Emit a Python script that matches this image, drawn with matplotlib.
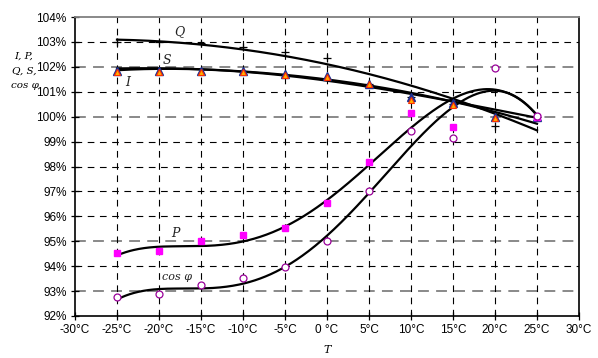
import matplotlib.pyplot as plt
import numpy as np
from matplotlib.ticker import FixedLocator

# temperatures (deg C)
temps = [-25, -20, -15, -10, -5, 0, 5, 10, 15, 20, 25]
tick_temps = [-30, -25, -20, -15, -10, -5, 0, 5, 10, 15, 20, 25, 30]
tick_labels = ['-30°C', '-25°C', '-20°C', '-15°C', '-10°C', '-5°C', '0 °C',
               '5°C', '10°C', '15°C', '20°C', '25°C', '30°C']

# measured points (%)
q_pts = [103.0, 103.0, 102.95, 102.81, 102.61, 102.34, 101.3, 100.8, 100.5, 99.62, 100.0]
s_pts = [101.82, 101.84, 101.84, 101.82, 101.7, 101.65, 101.33, 100.8, 100.55, 99.98, 100.0]
i_pts = [101.78, 101.8, 101.8, 101.8, 101.67, 101.6, 101.3, 100.67, 100.47, 99.93, 100.0]
p_pts = [94.52, 94.62, 95.0, 95.27, 95.55, 96.54, 98.2, 100.14, 99.58, np.nan, 100.0]
cos_pts = [92.76, 92.88, 93.24, 93.53, 93.97, 95.0, 97.01, 99.42, 99.15, 101.94, 100.02]

# polynomial trendlines at the same temperatures (%)
q_trend = [103.09, 103.01, 102.92, 102.71, 102.41, 102.07, 101.7, 101.34, 100.67, 100.1, 99.46]
s_trend = [101.94, 101.93, 101.9, 101.85, 101.67, 101.47, 101.23, 101.0, 100.62, 100.15, 99.73]
i_trend = [101.88, 101.9, 101.88, 101.82, 101.64, 101.44, 101.2, 100.97, 100.6, 100.2, 100.0]
p_trend = [94.44, 94.74, 94.84, 95.07, 95.45, 96.62, 98.26, 99.45, 100.67, 101.15, 100.05]
cos_trend = [92.67, 93.06, 93.1, 93.37, 93.91, 95.18, 97.05, 98.7, 100.47, 101.0, 100.05]

W, H = 598, 358
fig = plt.figure(figsize=(W / 100, H / 100), dpi=100)
ax = fig.add_axes([75 / W, 1 - 316 / H, 504 / W, 299 / H])

ax.set_xlim(-30, 30)
ax.set_ylim(92, 104)

# grid: gray dashes on some rows, thin black dashes elsewhere
gray_rows = [93, 95, 100, 102]
for y in range(93, 104):
    if y in gray_rows:
        ax.axhline(y, color='#808080', lw=1.3, ls=(0, (6, 4)), zorder=0)
    else:
        ax.axhline(y, color='black', lw=0.8, ls=(0, (6, 5)), zorder=0)
for x in temps:
    ax.axvline(x, color='black', lw=0.8, ls=(0, (6, 5)), zorder=0)

# trendlines (least-squares polynomials through the read-off trend values)
xs = np.linspace(-25, 25, 400)
for tr, deg in [(q_trend, 3), (s_trend, 3), (i_trend, 3), (p_trend, 5), (cos_trend, 5)]:
    coef = np.polyfit(temps, tr, deg)
    ax.plot(xs, np.polyval(coef, xs), color='black', lw=1.6, zorder=2)

# markers
ax.plot(temps, q_pts, '+', color='black', ms=6, mew=0.9, zorder=3)
ax.plot(temps, s_pts, '^', color='#1f2f8f', mec='#1f2f8f', ms=5.5, zorder=3)
ax.plot(temps, i_pts, '^', color='#ffb000', mec='#ff3000', mew=0.8, ms=5, zorder=4)
ax.plot(temps, p_pts, 's', color='#ff00ff', mec='#ff00ff', ms=5, zorder=4)
ax.plot(temps, cos_pts, 'o', mfc='white', mec='#990099', mew=0.9, ms=5, zorder=4)

# curve labels
lab = dict(family='DejaVu Serif', style='italic', fontsize=9, color='#222222',
           ha='center', va='center')
ax.text(-17.6, 103.4, 'Q', **lab)
ax.text(-19.1, 102.27, 'S', **lab)
ax.text(-23.7, 101.39, 'I', **lab)
ax.text(-18.0, 95.33, 'P', **lab)
ax.text(-17.9, 93.55, 'cos φ', family='DejaVu Serif', style='italic', fontsize=8,
        color='#222222', ha='center', va='center')

# axes styling
for side in ['left', 'bottom', 'right']:
    ax.spines[side].set_color('black')
    ax.spines[side].set_linewidth(1.2)
ax.spines['top'].set_color('#808080')
ax.spines['top'].set_linewidth(1.3)

ax.xaxis.set_major_locator(FixedLocator(tick_temps))
ax.set_xticklabels(tick_labels)
ax.yaxis.set_major_locator(FixedLocator(range(92, 105)))
ax.set_yticklabels([f'{v}%' for v in range(92, 105)])
ax.tick_params(direction='inout', length=6, width=0.9, labelsize=8.5, pad=3)
for t in ax.get_xticklabels() + ax.get_yticklabels():
    t.set_family('Liberation Sans')

# y-axis title, three lines squeezed left of the tick labels
ylab = dict(family='DejaVu Serif', style='italic', fontsize=7.5, ha='center', va='center')
fig.text(24 / W, 1 - 56 / H, 'I, P,', **ylab)
fig.text(24 / W, 1 - 71 / H, 'Q, S,', **ylab)
fig.text(25 / W, 1 - 86 / H, 'cos φ', **ylab)
fig.text(327 / W, 1 - 350 / H, 'T', ha='center', va='center',
         family='DejaVu Serif', style='italic', fontsize=8)

fig.savefig('out.png', dpi=100)
